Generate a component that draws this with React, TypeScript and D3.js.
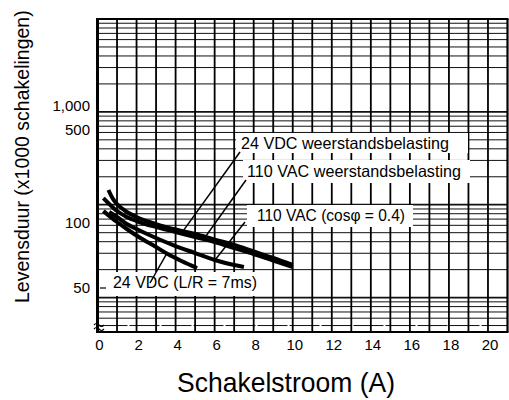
import React from 'react';
import * as d3 from 'd3';

// ---------------- data ----------------
const currentTicks = [0, 2, 4, 6, 8, 10, 12, 14, 16, 18, 20];
const lifeTicks = [50, 100, 500, 1000];
const lifeTickLabels = ['50', '100', '500', '1,000'];

const seriesLabels = [
  '24 VDC weerstandsbelasting',
  '110 VAC weerstandsbelasting',
  '110 VAC (cosφ = 0.4)',
  '24 VDC (L/R = 7ms)',
];

// 24 VDC resistive load
const vdcResCurrent = [0.56, 0.8, 1, 1.5, 2, 3, 4, 5, 6, 7, 8, 9, 10];
const vdcResLife = [177, 151, 139, 121, 111, 98.9, 93.3, 88.9, 83.8, 79.1, 73.8, 68.9, 63.9];

// 110 VAC resistive load
const vacResCurrent = [0.3, 0.6, 1, 1.5, 2, 3, 4, 5, 6, 7, 8, 9, 10];
const vacResLife = [154, 139, 123, 111, 103.5, 95.8, 90.9, 86.1, 81.7, 76.6, 71.8, 67.0, 62.6];

// 110 VAC cos phi = 0.4
const vacIndCurrent = [0.6, 1, 1.5, 2, 3, 4, 5, 6, 7, 7.5];
const vacIndLife = [121, 111, 98.9, 93.8, 85.2, 78.2, 72.6, 67.4, 63.9, 62.6];

// 24 VDC L/R = 7 ms
const vdcIndCurrent = [0.3, 1, 1.5, 2.2, 3, 3.6, 4.3, 5.1];
const vdcIndLife = [123, 101.7, 93.8, 85.2, 77.4, 71.8, 66.7, 61.9];

// leader targets on the curves: [current, life]
const leaderTargetCurrent = [4.38, 5.51, 6.02, 3.56];
const leaderTargetLife = [91.7, 85.9, 67.4, 72.6];

// paper grid (log chart paper)
const paperDecades = [1, 10, 100, 1000];
const paperMultipliers = [1, 2, 3, 4, 5, 6, 7, 8, 9];

const W = 509;
const H = 400;
const FONT = '"Liberation Sans", Arial, Helvetica, sans-serif';

export default function App() {
  const plotLeft = 97.5;
  const plotRight = 507.5;
  const plotTop = 19;
  const plotBottom = 332;

  const x = d3.scaleLinear().domain([0, 21]).range([plotLeft, plotRight]);
  // value scale as printed by the axis labels (piecewise log)
  const y = d3.scaleLog().domain([50, 100, 500, 1000]).range([288, 223, 130, 105.5]);
  // the chart paper grid
  const yPaper = d3.scaleLog().domain([4.26, 10000]).range([plotBottom, plotTop]);

  const line = d3
    .line<[number, number]>()
    .x((d) => x(d[0]))
    .y((d) => y(d[1]))
    .curve(d3.curveMonotoneX);

  const zip = (a: number[], b: number[]) => a.map((v, i) => [v, b[i]] as [number, number]);
  const series = [
    zip(vdcResCurrent, vdcResLife),
    zip(vacResCurrent, vacResLife),
    zip(vacIndCurrent, vacIndLife),
    zip(vdcIndCurrent, vdcIndLife),
  ];

  const paperLines: { v: number; major: boolean }[] = [];
  paperDecades.forEach((dec) =>
    paperMultipliers.forEach((m) => {
      const v = dec * m;
      if (v > 4.26 && v < 10000) paperLines.push({ v, major: m === 1 });
    })
  );

  const verticals = d3.range(0, 22);

  // annotation layout
  const labelLayout = [
    { tx: 241, ty: 149, len: 208, box: [236, 133, 232, 20], from: [240, 152] },
    { tx: 247, ty: 177, len: 214, box: [243, 160, 227, 23], from: [246, 180] },
    { tx: 257, ty: 221, len: 148, box: [247, 205, 166, 22], from: [245, 222] },
    { tx: 113, ty: 288, len: 144, box: [108, 272, 155, 24], from: [150, 283] },
  ];

  return (
    <svg
      width={W}
      height={H}
      viewBox={`0 0 ${W} ${H}`}
      style={{ position: 'absolute', left: 0, top: 0, background: '#fff' }}
      fontFamily={FONT}
    >
      <rect x={0} y={0} width={W} height={H} fill="#fff" />
      {/* horizontal paper grid */}
      {paperLines.map((p, i) => (
        <line
          key={'h' + i}
          x1={plotLeft}
          x2={plotRight}
          y1={yPaper(p.v)}
          y2={yPaper(p.v)}
          stroke="#111"
          strokeWidth={p.major ? 1.8 : 1}
          strokeDasharray={!p.major && p.v % 10 === 5 ? '30 2' : undefined}
        />
      ))}
      {/* vertical grid */}
      {verticals.map((v) => (
        <line
          key={'v' + v}
          x1={x(v)}
          x2={x(v)}
          y1={plotTop}
          y2={plotBottom}
          stroke="#000"
          strokeWidth={v === 0 ? 3 : v === 21 ? 2.2 : 1.8}
        />
      ))}
      {/* frame */}
      <line x1={plotLeft - 1.5} x2={plotRight + 1} y1={plotTop} y2={plotTop} stroke="#000" strokeWidth={2} />
      <line x1={plotLeft - 1.5} x2={plotRight + 1} y1={plotBottom} y2={plotBottom} stroke="#000" strokeWidth={2} />

      {/* label boxes */}
      {labelLayout.map((l, i) => (
        <rect key={'b' + i} x={l.box[0]} y={l.box[1]} width={l.box[2]} height={l.box[3]} fill="#fff" />
      ))}

      {/* curves */}
      {series.map((s, i) => (
        <path key={'c' + i} d={line(s) || ''} fill="none" stroke="#000" strokeWidth={4} />
      ))}

      {/* leaders */}
      {labelLayout.map((l, i) => (
        <line
          key={'l' + i}
          x1={l.from[0]}
          y1={l.from[1]}
          x2={x(leaderTargetCurrent[i])}
          y2={y(leaderTargetLife[i])}
          stroke="#000"
          strokeWidth={1.5}
        />
      ))}

      {/* annotation texts */}
      {labelLayout.map((l, i) => (
        <text
          key={'t' + i}
          x={l.tx}
          y={l.ty}
          fontSize={16.5}
          textLength={l.len}
          lengthAdjust="spacingAndGlyphs"
          fill="#000"
        >
          {seriesLabels[i]}
        </text>
      ))}

      {/* axis break mark */}
      <path d="M94,325 q2.5,-3 5,0 t5,0 M94,329 q2.5,-3 5,0 t5,0" fill="none" stroke="#000" strokeWidth={1.2} />
      {/* small tick at 50 */}
      <line x1={100} x2={106} y1={y(50)} y2={y(50)} stroke="#000" strokeWidth={1.2} />

      {/* x tick labels */}
      {currentTicks.map((t) => (
        <text key={'xt' + t} x={x(t) + 2} y={350} fontSize={15} textAnchor="middle" fill="#000">
          {t}
        </text>
      ))}
      {/* y tick labels */}
      {lifeTicks.map((t, i) => (
        <text key={'yt' + t} x={90} y={y(t) + 5.3} fontSize={15} textAnchor="end" fill="#000">
          {lifeTickLabels[i]}
        </text>
      ))}

      {/* axis titles */}
      <text
        x={177}
        y={392}
        fontSize={28}
        textLength={218}
        lengthAdjust="spacingAndGlyphs"
        fill="#000"
      >
        Schakelstroom (A)
      </text>
      <text
        transform="translate(29,303) rotate(-90)"
        x={0}
        y={0}
        fontSize={19.5}
        fill="#000"
      >
        Levensduur (x1000 schakelingen)
      </text>
    </svg>
  );
}
